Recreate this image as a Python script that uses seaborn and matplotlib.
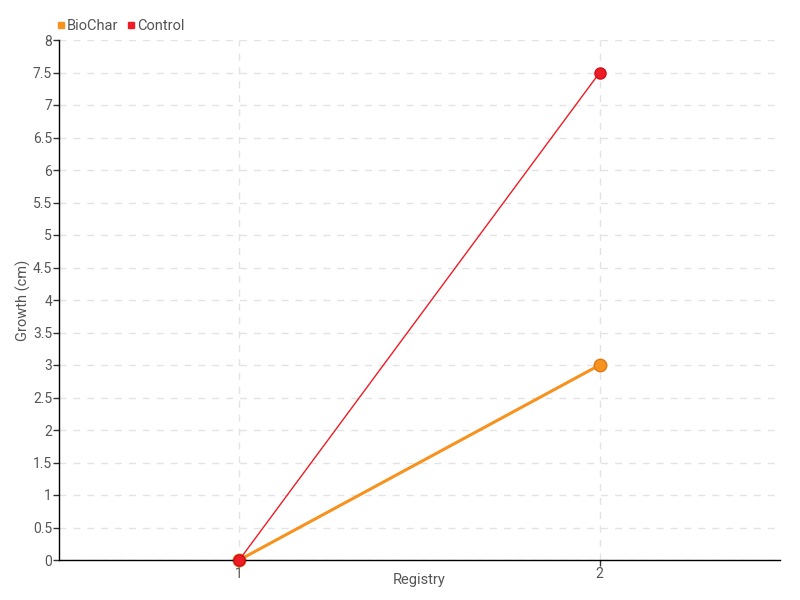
import matplotlib
matplotlib.use("Agg")
import matplotlib.pyplot as plt
import seaborn as sns
import pandas as pd
import numpy as np
from matplotlib.lines import Line2D

registry = [1, 2]
biochar = [0, 3]
control = [0, 7.5]
series_names = ["BioChar", "Control"]
colors = {"BioChar": "#f7921e", "Control": "#ee1c25"}

df = pd.DataFrame({
    "Registry": registry * 2,
    "Growth": biochar + control,
    "Series": ["BioChar"] * 2 + ["Control"] * 2,
})

sns.set_style("white")
plt.rcParams['font.family'] = ['Roboto', 'DejaVu Sans']

fig = plt.figure(figsize=(8, 6), dpi=100)
ax = fig.add_axes([59/800, 1-560/600, (780-59)/800, (560-40)/600])

for name, lw, ms, ec, z in [("BioChar", 2.2, 9, "#e07818", 2), ("Control", 1, 8, "#d01018", 3)]:
    sub = df[df["Series"] == name]
    sns.lineplot(data=sub, x="Registry", y="Growth", ax=ax, color=colors[name],
                 linewidth=lw, marker="o", markersize=ms, markeredgecolor=ec,
                 markeredgewidth=1, legend=False, zorder=z, clip_on=False)

ax.set_xlim(0.5, 2.5)
ax.set_ylim(0, 8)
ax.set_xticks(registry)
ax.set_xticklabels([str(r) for r in registry])
yt = np.arange(0, 8.01, 0.5)
ax.set_yticks(yt)
ax.set_yticklabels([("%g" % v) for v in yt])
ax.grid(True, color="#e3e3e3", linestyle=(0, (5, 5)), linewidth=1)
ax.set_axisbelow(True)
for s in ["top", "right"]:
    ax.spines[s].set_visible(False)
for s in ["left", "bottom"]:
    ax.spines[s].set_color("black")
    ax.spines[s].set_linewidth(1)
ax.tick_params(axis="both", which="both", direction="out", length=4, width=1,
               colors="#333333", labelsize=10, labelcolor="#555555", left=True, bottom=True, pad=1)
ax.set_xlabel("Registry", fontsize=10.5, color="#555555")
ax.set_ylabel("Growth (cm)", fontsize=10.5, color="#555555")
ax.xaxis.set_label_coords(0.5, -0.038, transform=ax.transAxes)
ax.yaxis.set_label_coords(-0.05, 0.5, transform=ax.transAxes)
ax.xaxis.label.set_verticalalignment("center")
ax.yaxis.label.set_verticalalignment("center")

handles = [Line2D([0], [0], marker="s", color="none", markerfacecolor=colors[n],
                  markeredgecolor=colors[n], markersize=4.5) for n in series_names]
fig.legend(handles, series_names, loc="upper left", bbox_to_anchor=(0.052, 0.99),
           ncol=2, frameon=False, fontsize=10.5, handletextpad=0.0, columnspacing=0.5,
           handlelength=0.8, labelcolor="#555555")

fig.savefig("out.png", dpi=100)
